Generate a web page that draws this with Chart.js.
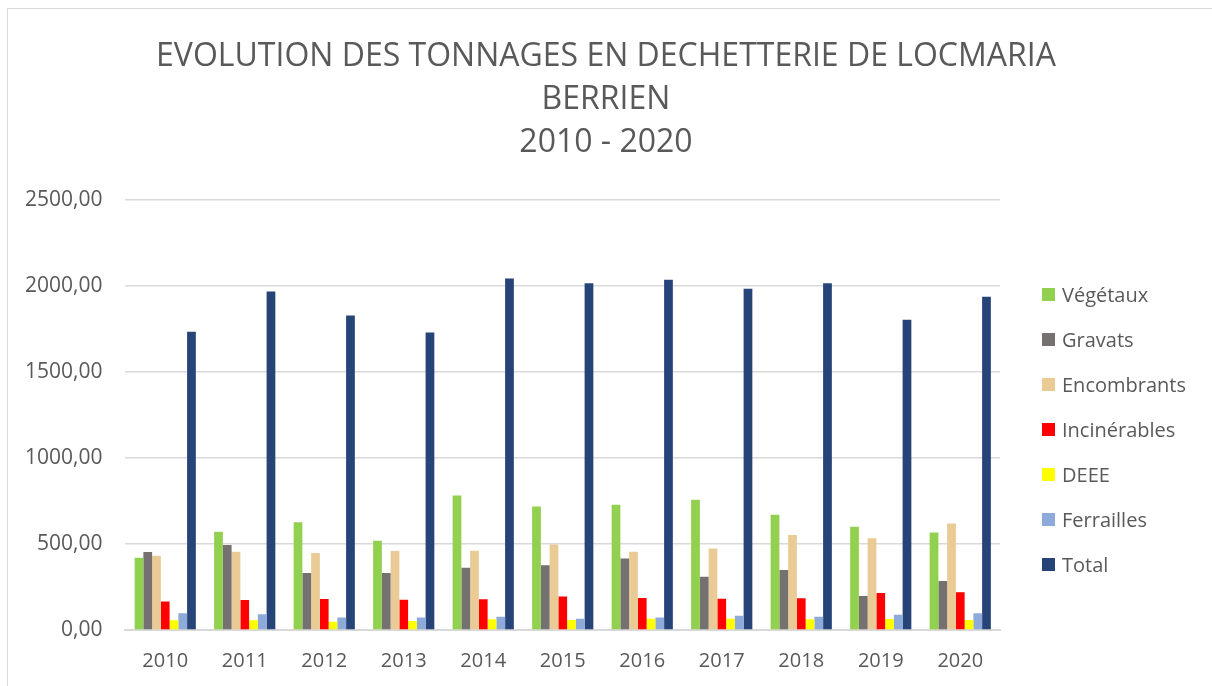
<!DOCTYPE html>
<html>
<head>
<meta charset="utf-8">
<script src="https://cdn.jsdelivr.net/npm/chart.js@4"></script>
<style>
  html, body { margin: 0; padding: 0; background: #fff; overflow: hidden; }
  #frame {
    position: absolute; left: 7px; top: 8px; width: 1220px; height: 700px;
    border-left: 1px solid #d9d9d9; border-top: 1px solid #d9d9d9;
  }
  #wrap { position: absolute; left: 0; top: 0; width: 1212px; height: 692px; }
  #legend { position: absolute; left: 1042px; top: 0; font-family: 'Open Sans', sans-serif; font-size: 20px; color: #595959; }
  #legend .item { position: absolute; left: 0; height: 24px; white-space: nowrap; }
  #legend .box { position: absolute; left: 0; width: 13px; height: 13px; }
  #legend .lbl { position: absolute; left: 20px; line-height: 24px; }
</style>
</head>
<body>
<div id="frame"></div>
<div id="wrap"><canvas id="myChart"></canvas></div>
<div id="legend"></div>
<script>
// Data
const years = ["2010", "2011", "2012", "2013", "2014", "2015", "2016", "2017", "2018", "2019", "2020"];
const vegetaux = [420, 571, 626, 519, 781, 717, 727, 756, 670, 600, 566];
const gravats = [453, 494, 331, 331, 362, 376, 415, 310, 349, 198, 285];
const encombrants = [432, 455, 448, 459, 461, 496, 455, 473, 552, 533, 618];
const incinerables = [165, 174, 180, 176, 178, 194, 186, 182, 184, 215, 219];
const deee = [56, 56, 48, 52, 62, 58, 66, 66, 62, 64, 58];
const ferrailles = [97, 91, 72, 72, 77, 66, 72, 83, 77, 89, 97];
const total = [1733, 1967, 1827, 1728, 2042, 2015, 2035, 1983, 2015, 1802, 1936];

const textColor = '#595959';
const gridColor = '#d9d9d9';
const fontFam = "'Open Sans', 'Noto Sans', sans-serif";

function ds(label, data, color) {
  return {
    label: label,
    data: data,
    backgroundColor: color,
    borderWidth: 0,
    categoryPercentage: 0.77,
    barPercentage: 1.0
  };
}

// title is centred over the whole canvas, not only the padded area
const centerTitle = {
  id: 'center_title',
  afterLayout: (chart) => {
    const t = chart.titleBlock;
    if (t) {
      t.left = 0;
      t.right = chart.width;
      t.width = chart.width;
    }
  }
};

var ctx = document.getElementById('myChart').getContext('2d');
var chart = new Chart(ctx, {
  type: 'bar',
  data: {
    labels: years,
    datasets: [
      ds('Végétaux', vegetaux, '#92d050'),
      ds('Gravats', gravats, '#767171'),
      ds('Encombrants', encombrants, '#eacb95'),
      ds('Incinérables', incinerables, '#ff0000'),
      ds('DEEE', deee, '#ffff00'),
      ds('Ferrailles', ferrailles, '#8eaadb'),
      ds('Total', total, '#264478')
    ]
  },
  plugins: [centerTitle],
  options: {
    responsive: true,
    maintainAspectRatio: false,
    animation: false,
    layout: {
      padding: { left: 2, right: 212, top: 0, bottom: 0 }
    },
    plugins: {
      title: {
        display: true,
        text: ['EVOLUTION DES TONNAGES EN DECHETTERIE DE LOCMARIA', 'BERRIEN', '2010 - 2020'],
        color: textColor,
        font: { family: fontFam, size: 32, weight: 'normal', lineHeight: 1.33 },
        padding: { top: 36, bottom: 36 }
      },
      legend: { display: false },
      tooltip: { enabled: false }
    },
    scales: {
      x: {
        grid: { display: false, drawTicks: false },
        border: { display: true, color: gridColor, width: 2 },
        ticks: { color: textColor, font: { family: fontFam, size: 20 }, padding: 19 }
      },
      y: {
        min: 0,
        max: 2500,
        grid: { color: gridColor, lineWidth: 1.5, drawTicks: false },
        border: { display: false },
        ticks: {
          stepSize: 500,
          color: textColor,
          font: { family: fontFam, size: 21 },
          padding: 23,
          callback: (v) => v.toFixed(2).replace('.', ',')
        }
      }
    }
  }
});

// legend built from the chart's own datasets
const legendEl = document.getElementById('legend');
chart.data.datasets.forEach((d, i) => {
  const cy = 295 + 45 * i;
  const item = document.createElement('div');
  item.className = 'item';
  item.style.top = (cy - 12) + 'px';
  item.innerHTML = '<span class="box" style="top:5px;background:' + d.backgroundColor + '"></span>' +
    '<span class="lbl">' + d.label + '</span>';
  legendEl.appendChild(item);
});
</script>
</body>
</html>
